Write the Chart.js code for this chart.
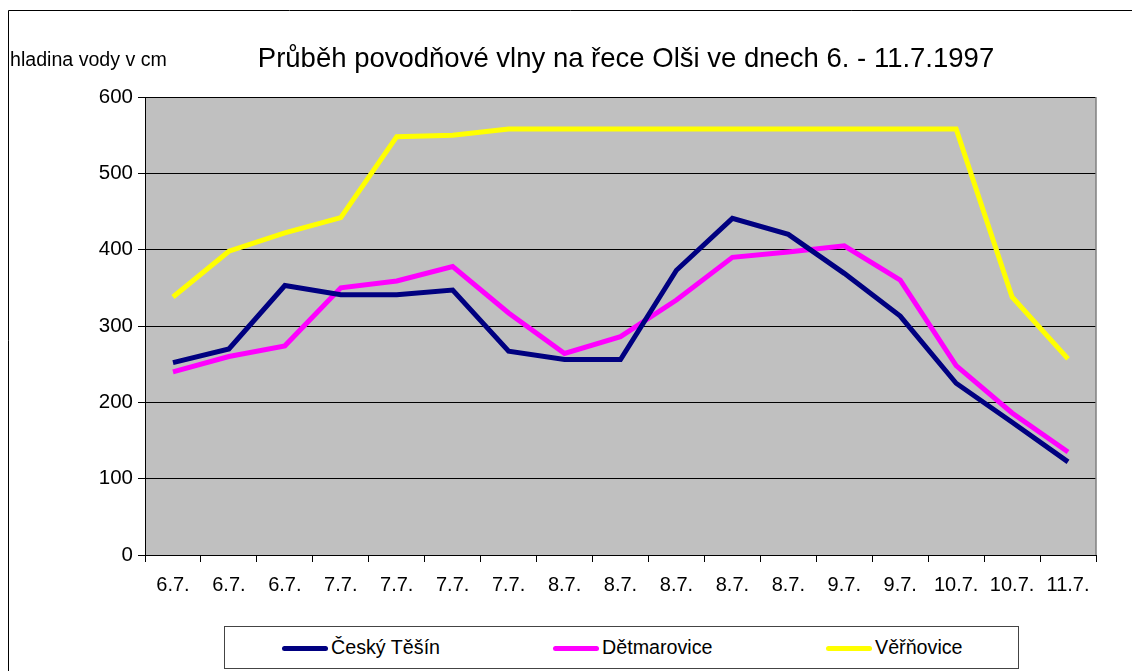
<!DOCTYPE html>
<html lang="cs">
<head>
  <meta charset="UTF-8" />
  <title>Průběh povodňové vlny na řece Olši</title>
  <script src="https://cdn.jsdelivr.net/npm/chart.js"></script>
  <style>
    html, body { margin: 0; padding: 0; background: #fff; }
    .wrap { position: relative; width: 1132px; height: 671px; }
    .legend {
      position: absolute; left: 224px; top: 626px; width: 793px; height: 41px;
      border: 1px solid #444; background: #fff;
      font-family: "Liberation Sans", Arial, sans-serif; font-size: 19.7px; color: #000;
    }
    .legend .item { position: absolute; top: 0; height: 41px; line-height: 41px; white-space: nowrap; }
    .legend .swatch { display: inline-block; width: 46px; height: 5px; border-radius: 3px; vertical-align: middle; margin-right: 3px; }
  </style>
</head>
<body>
  <div class="wrap">
    <canvas id="floodChart" width="1132" height="671"></canvas>
    <div class="legend" id="legend"></div>
  </div>

  <script>
    // dates on the x axis (readings several times a day)
    const days = ['6.7.', '6.7.', '6.7.', '7.7.', '7.7.', '7.7.', '7.7.', '8.7.', '8.7.', '8.7.',
                  '8.7.', '8.7.', '9.7.', '9.7.', '10.7.', '10.7.', '11.7.'];

    // water level in cm
    const ceskyTesin = [252, 270, 353, 341, 341, 347, 267, 256, 256, 373, 441, 420, 369, 313, 225, 174, 122];
    const detmarovice = [240, 260, 274, 350, 359, 378, 317, 264, 286, 334, 390, 397, 405, 360, 248, 186, 135];
    const verinovice = [338, 398, 422, 442, 548, 550, 558, 558, 558, 558, 558, 558, 558, 558, 558, 338, 257];

    const yTicks = [0, 100, 200, 300, 400, 500, 600];

    const seriesNames = ['Český Těšín', 'Dětmarovice', 'Věřňovice'];
    const seriesColors = ['#000080', '#FF00FF', '#FFFF00'];

    const FONT = '"Liberation Sans", Arial, sans-serif';

    // grey plot area, outer frame, title and axis caption
    const decorPlugin = {
      id: 'decor',
      beforeDraw(chart) {
        const { ctx, chartArea: a } = chart;
        ctx.save();
        ctx.fillStyle = '#fff';
        ctx.fillRect(0, 0, chart.width, chart.height);
        ctx.fillStyle = '#C0C0C0';
        ctx.fillRect(a.left, a.top, a.right - a.left, a.bottom - a.top);
        // outer frame
        ctx.strokeStyle = '#000';
        ctx.lineWidth = 1;
        ctx.beginPath();
        ctx.moveTo(8.5, chart.height);
        ctx.lineTo(8.5, 10.5);
        ctx.lineTo(chart.width, 10.5);
        ctx.stroke();
        ctx.restore();
      },
      afterDraw(chart) {
        const { ctx, chartArea: a } = chart;
        ctx.save();
        ctx.strokeStyle = '#808080';
        ctx.lineWidth = 1.5;
        ctx.beginPath();
        ctx.moveTo(a.right, a.top);
        ctx.lineTo(a.right, a.bottom);
        ctx.stroke();
        ctx.fillStyle = '#000';
        ctx.textBaseline = 'alphabetic';
        ctx.textAlign = 'center';
        ctx.font = '27.5px ' + FONT;
        ctx.fillText('Průběh povodňové vlny na řece Olši ve dnech 6. - 11.7.1997', 626, 67);
        ctx.textAlign = 'left';
        ctx.font = '19.6px ' + FONT;
        ctx.fillText('hladina vody v cm', 10, 66);
        ctx.restore();
      }
    };

    const ctx = document.getElementById('floodChart').getContext('2d');
    const datasets = [ceskyTesin, detmarovice, verinovice].map((vals, i) => ({
      label: seriesNames[i],
      data: vals,
      borderColor: seriesColors[i],
      backgroundColor: seriesColors[i],
      borderWidth: 5,
      pointRadius: 0,
      tension: 0,
      fill: false
    }));

    new Chart(ctx, {
      type: 'line',
      data: { labels: days, datasets: datasets },
      plugins: [decorPlugin],
      options: {
        responsive: false,
        animation: false,
        events: [],
        layout: { padding: { left: 0, top: 97, right: 36, bottom: 66 } },
        plugins: {
          legend: { display: false },
          title: { display: false },
          tooltip: { enabled: false }
        },
        scales: {
          x: {
            offset: true,
            afterFit(scale) { scale.height = 50; },
            grid: { offset: true, drawOnChartArea: false, drawTicks: true, tickLength: 7, color: '#000' },
            border: { color: '#000', width: 1 },
            ticks: { color: '#000', font: { family: FONT, size: 20 }, padding: 11, maxRotation: 0, autoSkip: false }
          },
          y: {
            min: 0,
            max: 600,
            afterFit(scale) { scale.width = 145; },
            afterBuildTicks(scale) { scale.ticks = yTicks.map(v => ({ value: v })); },
            grid: { color: '#000', lineWidth: 1, tickLength: 7 },
            border: { color: '#000', width: 1 },
            ticks: { color: '#000', font: { family: FONT, size: 20.5 }, padding: 5 }
          }
        }
      }
    });

    // legend below the chart
    const legend = document.getElementById('legend');
    const itemLeft = [57, 328, 601];
    seriesNames.forEach((name, i) => {
      const item = document.createElement('div');
      item.className = 'item';
      item.style.left = itemLeft[i] + 'px';
      item.innerHTML = '<span class="swatch" style="background:' + seriesColors[i] + '"></span>' + name;
      legend.appendChild(item);
    });
  </script>
</body>
</html>
